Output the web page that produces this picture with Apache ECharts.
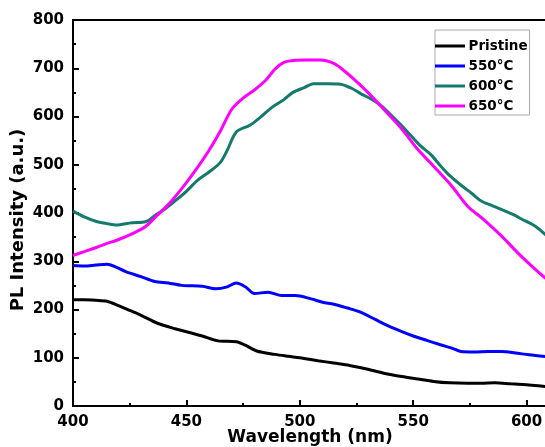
<!DOCTYPE html>
<html><head><meta charset="utf-8">
<script src="https://cdn.jsdelivr.net/npm/echarts@6/dist/echarts.min.js"></script>
<style>html,body{margin:0;padding:0;background:#fff}#c{width:545px;height:447px}</style>
</head><body><div id="c"></div>
<script>
var seriesNames = ['Pristine', '550°C', '600°C', '650°C'];
var seriesColors = ['#000000', '#0000ff', '#137a6c', '#ff00ff'];

var wlPristine = [400,405,410,415,420,425,430,437,445,450,457,464,472,476,481,489,495,500,508,515,522,530,537,545,552,559,566,574,580,586,593,600,605,609];
var pristine   = [220,220,219,217,208,198,188,172,160,154,145,135,133,126,114,107,103,100,94,89,84,76,68,61,56,51,48,47,47,48,46,44,42,40];

var wl550 = [400,405,410,415,419,423,430,436,442,448,457,463,468,472,476,480,486,492,498,505,510,515,521,527,533,539,545,550,556,562,567,571,577,583,589,595,601,609];
var t550  = [291,290,292,294,288,279,268,258,255,250,248,243,247,255,247,233,236,229,229,222,215,211,203,194,180,166,154,145,136,127,120,113,112,113,113,110,106,102];

var wl600 = [400,405,410,415,419,426,432,437,441,445,450,455,460,465,468,472,478,483,488,493,497,502,506,512,518,523,527,532,536,540,545,549,553,558,562,566,571,576,580,585,589,594,598,604,609];
var t600  = [404,392,383,378,375,380,382,398,410,425,445,468,485,505,530,568,582,600,620,635,650,660,668,668,667,658,647,635,622,604,581,560,540,520,498,478,458,440,425,415,407,397,387,372,352];

var wl650 = [400,405,410,415,419,427,432,436,440,444,450,455,460,465,470,475,480,485,489,493,497,503,509,515,519,523,530,537,545,552,559,567,574,581,589,596,603,609];
var t650  = [312,320,328,337,343,359,372,390,408,428,463,495,530,570,615,638,655,675,698,712,716,717,717,710,697,681,650,615,574,532,497,456,414,387,352,318,287,262];

function pairs(xs, ys){ return xs.map(function(x,i){ return [x, ys[i]]; }); }
var allX = [wlPristine, wl550, wl600, wl650];
var allY = [pristine, t550, t600, t650];

var font = '"DejaVu Sans", Arial, sans-serif';
var chart = echarts.init(document.getElementById('c'));
chart.setOption({
  animation: false,
  backgroundColor: '#fff',
  grid: { left: 73, top: 20, right: -2, bottom: 41, show: true, borderColor: '#000', borderWidth: 2,
          backgroundColor: 'transparent', outerBoundsMode: 'none', containLabel: false },
  legend: {
    orient: 'vertical', left: 435, top: 30,
    data: seriesNames,
    icon: 'path://M0,0 L10,0 L10,1 L0,1 Z',
    borderColor: '#aaa', borderWidth: 1, padding: [9, 2, 2, 0],
    itemWidth: 33, itemHeight: 3, itemGap: 6,
    textStyle: { fontFamily: font, fontWeight: 'bold', fontSize: 13.5, color: '#000', padding: [0,0,0,-3] }
  },
  xAxis: {
    type: 'value', min: 400, max: 609, interval: 50,
    name: 'Wavelength (nm)', nameLocation: 'middle', nameGap: 23, nameMoveOverlap: false,
    nameTextStyle: { fontFamily: font, fontWeight: 'bold', fontSize: 17, color: '#000', verticalAlign: 'top' },
    axisLine: { show: true, lineStyle: { color: '#000', width: 2 } },
    axisTick: { show: true, inside: true, length: 6, lineStyle: { color: '#000', width: 2 } },
    minorTick: { show: true, splitNumber: 2, length: 3, lineStyle: { color: '#000', width: 2 } },
    axisLabel: { fontFamily: font, fontWeight: 'bold', fontSize: 15, color: '#000', margin: 9, showMaxLabel: false },
    splitLine: { show: false }
  },
  yAxis: {
    type: 'value', min: 0, max: 800, interval: 100,
    name: 'PL Intensity (a.u.)', nameLocation: 'middle', nameGap: 46, nameMoveOverlap: false,
    nameTextStyle: { fontFamily: font, fontWeight: 'bold', fontSize: 18, color: '#000', padding: [0, 14, 0, 0] },
    axisLine: { show: true, lineStyle: { color: '#000', width: 2 } },
    axisTick: { show: true, inside: true, length: 6, lineStyle: { color: '#000', width: 2 } },
    minorTick: { show: true, splitNumber: 2, length: 3, lineStyle: { color: '#000', width: 2 } },
    axisLabel: { fontFamily: font, fontWeight: 'bold', fontSize: 15, color: '#000', margin: 9 },
    splitLine: { show: false }
  },
  series: seriesNames.map(function(n, i){
    return {
      name: n, type: 'line', data: pairs(allX[i], allY[i]),
      symbol: 'none', smooth: 0.3, clip: true,
      color: seriesColors[i],
      lineStyle: { color: seriesColors[i], width: 3 }
    };
  })
});
</script></body></html>
